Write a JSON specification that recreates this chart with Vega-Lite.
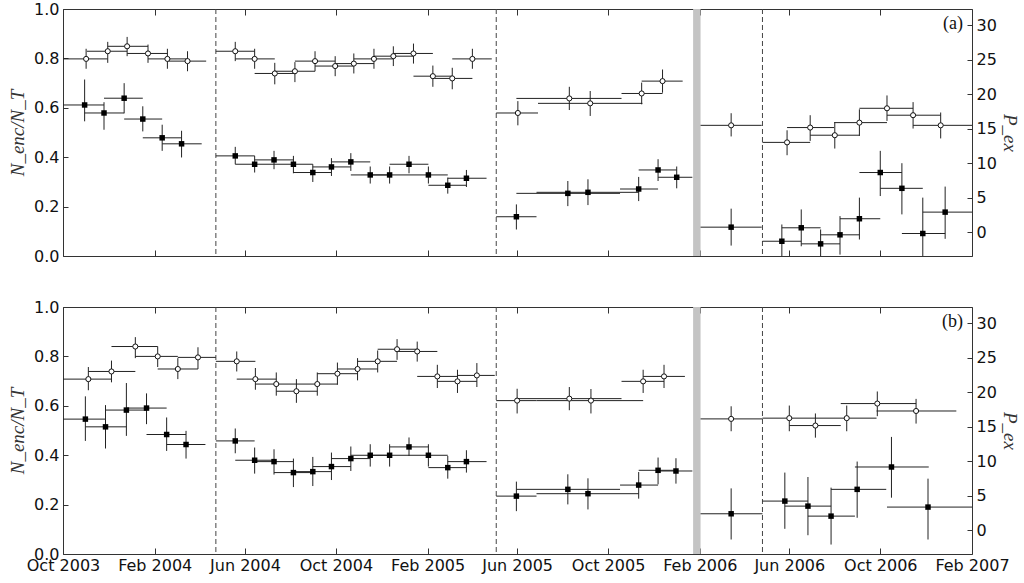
{
  "$schema": "https://vega.github.io/schema/vega-lite/v6.json",
  "background": "white",
  "padding": {"left": 8, "top": 0, "right": 2, "bottom": 2},
  "bounds": "flush",
  "spacing": 51,
  "datasets": {
    "band": [{"t0": "2006-01-23", "t1": "2006-02-02"}],
    "dashes": [{"t": "2004-04-23"}, {"t": "2005-05-04"}, {"t": "2006-04-26"}],
    "ca": [
      {"t": "2003-11-01", "t0": "2003-10-01", "t1": "2003-11-30", "v": 0.798, "lo": 0.758, "hi": 0.839},
      {"t": "2003-11-30", "t0": "2003-11-02", "t1": "2003-12-26", "v": 0.829, "lo": 0.782, "hi": 0.867},
      {"t": "2003-12-26", "t0": "2003-11-30", "t1": "2004-01-23", "v": 0.849, "lo": 0.809, "hi": 0.887},
      {"t": "2004-01-23", "t0": "2003-12-26", "t1": "2004-02-18", "v": 0.820, "lo": 0.782, "hi": 0.856},
      {"t": "2004-02-18", "t0": "2004-01-23", "t1": "2004-03-16", "v": 0.798, "lo": 0.758, "hi": 0.839},
      {"t": "2004-03-16", "t0": "2004-02-18", "t1": "2004-04-10", "v": 0.789, "lo": 0.748, "hi": 0.829},
      {"t": "2004-05-19", "t0": "2004-04-23", "t1": "2004-06-14", "v": 0.829, "lo": 0.789, "hi": 0.867},
      {"t": "2004-06-14", "t0": "2004-05-19", "t1": "2004-07-11", "v": 0.798, "lo": 0.758, "hi": 0.839},
      {"t": "2004-07-11", "t0": "2004-06-14", "t1": "2004-08-07", "v": 0.739, "lo": 0.695, "hi": 0.782},
      {"t": "2004-08-07", "t0": "2004-07-11", "t1": "2004-09-03", "v": 0.748, "lo": 0.704, "hi": 0.785},
      {"t": "2004-09-03", "t0": "2004-08-07", "t1": "2004-09-30", "v": 0.789, "lo": 0.748, "hi": 0.829},
      {"t": "2004-09-30", "t0": "2004-09-03", "t1": "2004-10-25", "v": 0.769, "lo": 0.728, "hi": 0.809},
      {"t": "2004-10-25", "t0": "2004-09-30", "t1": "2004-11-21", "v": 0.779, "lo": 0.739, "hi": 0.820},
      {"t": "2004-11-21", "t0": "2004-10-25", "t1": "2004-12-17", "v": 0.798, "lo": 0.758, "hi": 0.839},
      {"t": "2004-12-17", "t0": "2004-11-21", "t1": "2005-01-13", "v": 0.809, "lo": 0.769, "hi": 0.849},
      {"t": "2005-01-13", "t0": "2004-12-17", "t1": "2005-02-08", "v": 0.820, "lo": 0.779, "hi": 0.860},
      {"t": "2005-02-08", "t0": "2005-01-13", "t1": "2005-03-06", "v": 0.728, "lo": 0.685, "hi": 0.771},
      {"t": "2005-03-06", "t0": "2005-02-08", "t1": "2005-04-02", "v": 0.719, "lo": 0.675, "hi": 0.762},
      {"t": "2005-04-02", "t0": "2005-03-06", "t1": "2005-04-28", "v": 0.798, "lo": 0.758, "hi": 0.839},
      {"t": "2005-06-02", "t0": "2005-05-04", "t1": "2005-06-29", "v": 0.579, "lo": 0.529, "hi": 0.627},
      {"t": "2005-08-10", "t0": "2005-05-31", "t1": "2005-10-19", "v": 0.638, "lo": 0.591, "hi": 0.685},
      {"t": "2005-09-07", "t0": "2005-06-29", "t1": "2005-11-16", "v": 0.618, "lo": 0.567, "hi": 0.668},
      {"t": "2005-11-15", "t0": "2005-10-19", "t1": "2005-12-13", "v": 0.658, "lo": 0.614, "hi": 0.702},
      {"t": "2005-12-13", "t0": "2005-11-15", "t1": "2006-01-09", "v": 0.708, "lo": 0.661, "hi": 0.755},
      {"t": "2006-03-15", "t0": "2006-02-02", "t1": "2006-04-25", "v": 0.529, "lo": 0.484, "hi": 0.578},
      {"t": "2006-05-29", "t0": "2006-04-26", "t1": "2006-06-29", "v": 0.460, "lo": 0.408, "hi": 0.509},
      {"t": "2006-06-29", "t0": "2006-05-29", "t1": "2006-07-31", "v": 0.520, "lo": 0.466, "hi": 0.570},
      {"t": "2006-08-01", "t0": "2006-06-29", "t1": "2006-09-03", "v": 0.489, "lo": 0.435, "hi": 0.540},
      {"t": "2006-09-03", "t0": "2006-07-31", "t1": "2006-10-10", "v": 0.540, "lo": 0.486, "hi": 0.594},
      {"t": "2006-10-10", "t0": "2006-09-03", "t1": "2006-11-14", "v": 0.598, "lo": 0.547, "hi": 0.650},
      {"t": "2006-11-14", "t0": "2006-10-10", "t1": "2006-12-21", "v": 0.570, "lo": 0.516, "hi": 0.623},
      {"t": "2006-12-21", "t0": "2006-11-14", "t1": "2007-02-10", "v": 0.529, "lo": 0.476, "hi": 0.581}
    ],
    "sa": [
      {"t": "2003-10-30", "t0": "2003-10-01", "t1": "2003-11-25", "p": 18.44, "lo": 16.07, "hi": 22.13},
      {"t": "2003-11-25", "t0": "2003-10-30", "t1": "2003-12-22", "p": 17.28, "lo": 14.85, "hi": 18.84},
      {"t": "2003-12-22", "t0": "2003-11-25", "t1": "2004-01-16", "p": 19.42, "lo": 17.23, "hi": 21.60},
      {"t": "2004-01-16", "t0": "2003-12-22", "t1": "2004-02-11", "p": 16.40, "lo": 14.61, "hi": 18.25},
      {"t": "2004-02-11", "t0": "2004-01-16", "t1": "2004-03-08", "p": 13.68, "lo": 11.79, "hi": 15.58},
      {"t": "2004-03-08", "t0": "2004-02-11", "t1": "2004-04-04", "p": 12.81, "lo": 10.83, "hi": 14.70},
      {"t": "2004-05-19", "t0": "2004-04-23", "t1": "2004-06-14", "p": 11.06, "lo": 9.85, "hi": 12.37},
      {"t": "2004-06-14", "t0": "2004-05-19", "t1": "2004-07-10", "p": 9.85, "lo": 8.65, "hi": 11.06},
      {"t": "2004-07-10", "t0": "2004-06-14", "t1": "2004-08-05", "p": 10.48, "lo": 9.13, "hi": 11.79},
      {"t": "2004-08-05", "t0": "2004-07-10", "t1": "2004-08-31", "p": 9.85, "lo": 8.54, "hi": 11.06},
      {"t": "2004-08-31", "t0": "2004-08-05", "t1": "2004-09-25", "p": 8.65, "lo": 7.28, "hi": 9.85},
      {"t": "2004-09-25", "t0": "2004-08-31", "t1": "2004-10-21", "p": 9.46, "lo": 8.15, "hi": 10.73},
      {"t": "2004-10-21", "t0": "2004-09-25", "t1": "2004-11-16", "p": 10.19, "lo": 8.88, "hi": 11.46},
      {"t": "2004-11-16", "t0": "2004-10-21", "t1": "2004-12-12", "p": 8.30, "lo": 7.05, "hi": 9.52},
      {"t": "2004-12-12", "t0": "2004-11-16", "t1": "2005-01-07", "p": 8.30, "lo": 7.05, "hi": 9.52},
      {"t": "2005-01-07", "t0": "2004-12-12", "t1": "2005-02-02", "p": 9.85, "lo": 8.54, "hi": 11.06},
      {"t": "2005-02-02", "t0": "2005-01-07", "t1": "2005-02-28", "p": 8.30, "lo": 7.05, "hi": 9.52},
      {"t": "2005-02-28", "t0": "2005-02-02", "t1": "2005-03-25", "p": 6.80, "lo": 5.59, "hi": 7.92},
      {"t": "2005-03-25", "t0": "2005-02-28", "t1": "2005-04-21", "p": 7.82, "lo": 6.55, "hi": 9.02},
      {"t": "2005-05-31", "t0": "2005-05-04", "t1": "2005-06-27", "p": 2.24, "lo": 0.39, "hi": 4.03},
      {"t": "2005-08-08", "t0": "2005-05-31", "t1": "2005-10-17", "p": 5.63, "lo": 3.78, "hi": 7.42},
      {"t": "2005-09-04", "t0": "2005-06-27", "t1": "2005-11-11", "p": 5.78, "lo": 3.93, "hi": 7.67},
      {"t": "2005-11-11", "t0": "2005-10-17", "t1": "2005-12-07", "p": 6.26, "lo": 4.51, "hi": 8.01},
      {"t": "2005-12-07", "t0": "2005-11-11", "t1": "2006-01-01", "p": 9.02, "lo": 7.42, "hi": 10.58},
      {"t": "2006-01-01", "t0": "2005-12-07", "t1": "2006-01-22", "p": 7.96, "lo": 6.36, "hi": 9.52},
      {"t": "2006-03-15", "t0": "2006-02-02", "t1": "2006-04-25", "p": 0.73, "lo": -1.94, "hi": 3.41},
      {"t": "2006-05-22", "t0": "2006-04-26", "t1": "2006-06-17", "p": -1.31, "lo": -3.9, "hi": 1.12},
      {"t": "2006-06-17", "t0": "2006-05-22", "t1": "2006-07-13", "p": 0.64, "lo": -2.04, "hi": 3.30},
      {"t": "2006-07-13", "t0": "2006-06-17", "t1": "2006-08-08", "p": -1.69, "lo": -4.0, "hi": 0.39},
      {"t": "2006-08-08", "t0": "2006-07-13", "t1": "2006-09-03", "p": -0.38, "lo": -3.25, "hi": 2.33},
      {"t": "2006-09-03", "t0": "2006-08-08", "t1": "2006-10-01", "p": 1.95, "lo": -1.06, "hi": 5.01},
      {"t": "2006-10-01", "t0": "2006-09-03", "t1": "2006-10-30", "p": 8.65, "lo": 5.24, "hi": 11.79},
      {"t": "2006-10-30", "t0": "2006-10-01", "t1": "2006-11-27", "p": 6.36, "lo": 2.58, "hi": 10.0},
      {"t": "2006-11-27", "t0": "2006-10-30", "t1": "2006-12-27", "p": -0.19, "lo": -5.4, "hi": 5.01},
      {"t": "2006-12-27", "t0": "2006-11-27", "t1": "2007-02-10", "p": 2.91, "lo": -0.96, "hi": 6.61}
    ],
    "cb": [
      {"t": "2003-11-04", "t0": "2003-10-01", "t1": "2003-12-05", "v": 0.708, "lo": 0.663, "hi": 0.757},
      {"t": "2003-12-05", "t0": "2003-11-04", "t1": "2004-01-06", "v": 0.739, "lo": 0.695, "hi": 0.783},
      {"t": "2004-01-06", "t0": "2003-12-05", "t1": "2004-02-05", "v": 0.840, "lo": 0.793, "hi": 0.878},
      {"t": "2004-02-05", "t0": "2004-01-06", "t1": "2004-03-03", "v": 0.800, "lo": 0.757, "hi": 0.840},
      {"t": "2004-03-03", "t0": "2004-02-05", "t1": "2004-03-30", "v": 0.749, "lo": 0.708, "hi": 0.793},
      {"t": "2004-03-30", "t0": "2004-03-03", "t1": "2004-04-23", "v": 0.796, "lo": 0.749, "hi": 0.837},
      {"t": "2004-05-21", "t0": "2004-04-23", "t1": "2004-06-15", "v": 0.780, "lo": 0.739, "hi": 0.820},
      {"t": "2004-06-15", "t0": "2004-05-21", "t1": "2004-07-13", "v": 0.708, "lo": 0.665, "hi": 0.753},
      {"t": "2004-07-13", "t0": "2004-06-15", "t1": "2004-08-09", "v": 0.688, "lo": 0.641, "hi": 0.735},
      {"t": "2004-08-09", "t0": "2004-07-13", "t1": "2004-09-06", "v": 0.659, "lo": 0.612, "hi": 0.708},
      {"t": "2004-09-06", "t0": "2004-08-09", "t1": "2004-10-03", "v": 0.688, "lo": 0.641, "hi": 0.735},
      {"t": "2004-10-03", "t0": "2004-09-06", "t1": "2004-10-30", "v": 0.730, "lo": 0.685, "hi": 0.775},
      {"t": "2004-10-30", "t0": "2004-10-03", "t1": "2004-11-26", "v": 0.749, "lo": 0.703, "hi": 0.793},
      {"t": "2004-11-26", "t0": "2004-10-30", "t1": "2004-12-22", "v": 0.780, "lo": 0.735, "hi": 0.824},
      {"t": "2004-12-22", "t0": "2004-11-26", "t1": "2005-01-18", "v": 0.829, "lo": 0.786, "hi": 0.870},
      {"t": "2005-01-18", "t0": "2004-12-22", "t1": "2005-02-14", "v": 0.820, "lo": 0.779, "hi": 0.860},
      {"t": "2005-02-14", "t0": "2005-01-18", "t1": "2005-03-13", "v": 0.719, "lo": 0.672, "hi": 0.766},
      {"t": "2005-03-13", "t0": "2005-02-14", "t1": "2005-04-08", "v": 0.699, "lo": 0.652, "hi": 0.746},
      {"t": "2005-04-08", "t0": "2005-03-13", "t1": "2005-05-02", "v": 0.723, "lo": 0.676, "hi": 0.773},
      {"t": "2005-06-01", "t0": "2005-05-04", "t1": "2005-06-27", "v": 0.621, "lo": 0.569, "hi": 0.669},
      {"t": "2005-08-10", "t0": "2005-06-01", "t1": "2005-10-19", "v": 0.629, "lo": 0.582, "hi": 0.676},
      {"t": "2005-09-08", "t0": "2005-06-27", "t1": "2005-11-17", "v": 0.621, "lo": 0.569, "hi": 0.668},
      {"t": "2005-11-17", "t0": "2005-10-19", "t1": "2005-12-15", "v": 0.699, "lo": 0.652, "hi": 0.746},
      {"t": "2005-12-15", "t0": "2005-11-17", "t1": "2006-01-12", "v": 0.719, "lo": 0.672, "hi": 0.766},
      {"t": "2006-03-15", "t0": "2006-02-02", "t1": "2006-04-26", "v": 0.547, "lo": 0.497, "hi": 0.598},
      {"t": "2006-06-01", "t0": "2006-04-26", "t1": "2006-07-06", "v": 0.550, "lo": 0.497, "hi": 0.601},
      {"t": "2006-07-06", "t0": "2006-06-01", "t1": "2006-08-09", "v": 0.520, "lo": 0.471, "hi": 0.569},
      {"t": "2006-08-17", "t0": "2006-07-06", "t1": "2006-09-26", "v": 0.550, "lo": 0.497, "hi": 0.601},
      {"t": "2006-09-27", "t0": "2006-08-09", "t1": "2006-11-18", "v": 0.609, "lo": 0.558, "hi": 0.658},
      {"t": "2006-11-18", "t0": "2006-09-26", "t1": "2007-01-11", "v": 0.579, "lo": 0.528, "hi": 0.628}
    ],
    "sb": [
      {"t": "2003-10-31", "t0": "2003-10-01", "t1": "2003-11-27", "p": 16.10, "lo": 12.94, "hi": 19.40},
      {"t": "2003-11-27", "t0": "2003-10-31", "t1": "2003-12-25", "p": 14.98, "lo": 11.84, "hi": 18.13},
      {"t": "2003-12-25", "t0": "2003-11-27", "t1": "2004-01-21", "p": 17.41, "lo": 13.67, "hi": 21.33},
      {"t": "2004-01-21", "t0": "2003-12-25", "t1": "2004-02-17", "p": 17.70, "lo": 15.37, "hi": 19.83},
      {"t": "2004-02-17", "t0": "2004-01-21", "t1": "2004-03-14", "p": 13.87, "lo": 11.49, "hi": 16.34},
      {"t": "2004-03-14", "t0": "2004-02-17", "t1": "2004-04-09", "p": 12.42, "lo": 10.38, "hi": 14.40},
      {"t": "2004-05-19", "t0": "2004-04-23", "t1": "2004-06-14", "p": 12.94, "lo": 11.15, "hi": 14.74},
      {"t": "2004-06-14", "t0": "2004-05-19", "t1": "2004-07-10", "p": 10.14, "lo": 8.20, "hi": 11.98},
      {"t": "2004-07-10", "t0": "2004-06-14", "t1": "2004-08-05", "p": 9.94, "lo": 8.06, "hi": 11.73},
      {"t": "2004-08-05", "t0": "2004-07-10", "t1": "2004-08-31", "p": 8.35, "lo": 6.25, "hi": 10.38},
      {"t": "2004-08-31", "t0": "2004-08-05", "t1": "2004-09-25", "p": 8.49, "lo": 6.40, "hi": 10.62},
      {"t": "2004-09-25", "t0": "2004-08-31", "t1": "2004-10-21", "p": 9.22, "lo": 7.27, "hi": 11.25},
      {"t": "2004-10-21", "t0": "2004-09-25", "t1": "2004-11-16", "p": 10.38, "lo": 8.58, "hi": 12.13},
      {"t": "2004-11-16", "t0": "2004-10-21", "t1": "2004-12-12", "p": 10.86, "lo": 9.22, "hi": 12.46},
      {"t": "2004-12-12", "t0": "2004-11-16", "t1": "2005-01-07", "p": 10.86, "lo": 9.22, "hi": 12.46},
      {"t": "2005-01-07", "t0": "2004-12-12", "t1": "2005-02-02", "p": 12.07, "lo": 10.76, "hi": 13.44},
      {"t": "2005-02-02", "t0": "2005-01-07", "t1": "2005-02-28", "p": 10.86, "lo": 9.22, "hi": 12.46},
      {"t": "2005-02-28", "t0": "2005-02-02", "t1": "2005-03-25", "p": 9.07, "lo": 7.47, "hi": 10.76},
      {"t": "2005-03-25", "t0": "2005-02-28", "t1": "2005-04-21", "p": 9.94, "lo": 8.35, "hi": 11.59},
      {"t": "2005-05-31", "t0": "2005-05-04", "t1": "2005-06-27", "p": 4.94, "lo": 2.76, "hi": 7.04},
      {"t": "2005-08-08", "t0": "2005-05-31", "t1": "2005-10-17", "p": 5.92, "lo": 3.74, "hi": 8.10},
      {"t": "2005-09-04", "t0": "2005-06-27", "t1": "2005-11-11", "p": 5.29, "lo": 3.01, "hi": 7.52},
      {"t": "2005-11-11", "t0": "2005-10-17", "t1": "2005-12-07", "p": 6.54, "lo": 4.57, "hi": 8.43},
      {"t": "2005-12-07", "t0": "2005-11-11", "t1": "2005-12-31", "p": 8.68, "lo": 6.65, "hi": 10.53},
      {"t": "2005-12-31", "t0": "2005-12-07", "t1": "2006-01-22", "p": 8.58, "lo": 6.75, "hi": 10.43},
      {"t": "2006-03-15", "t0": "2006-02-02", "t1": "2006-04-26", "p": 2.38, "lo": -1.35, "hi": 6.06},
      {"t": "2006-05-26", "t0": "2006-04-26", "t1": "2006-06-26", "p": 4.22, "lo": 0.20, "hi": 8.35},
      {"t": "2006-06-26", "t0": "2006-05-26", "t1": "2006-07-27", "p": 3.49, "lo": -0.73, "hi": 7.71},
      {"t": "2006-07-27", "t0": "2006-06-26", "t1": "2006-08-28", "p": 2.04, "lo": -2.08, "hi": 6.17},
      {"t": "2006-08-31", "t0": "2006-07-27", "t1": "2006-10-09", "p": 5.92, "lo": 1.80, "hi": 9.95},
      {"t": "2006-10-16", "t0": "2006-08-28", "t1": "2006-12-05", "p": 9.16, "lo": 4.71, "hi": 13.52},
      {"t": "2006-12-04", "t0": "2006-10-10", "t1": "2007-02-10", "p": 3.35, "lo": -1.35, "hi": 7.47}
    ]
  },
  "vconcat": [
    {
      "width": 909,
      "height": 247,
      "layer": [
        {
          "layer": [
            {
              "data": {"name": "band"},
              "mark": {"type": "rect", "color": "#c4c4c4"},
              "encoding": {
                "x": {
                  "field": "t0", "type": "temporal",
                  "scale": {"type": "utc", "domain": [{"year": 2003, "month": 10, "date": 1, "utc": true}, {"year": 2007, "month": 2, "date": 1, "utc": true}]},
                  "axis": {
                    "orient": "bottom", "title": null, "labels": false, "tickSize": -6,
                    "values": [
                      {"year": 2003, "month": 10, "date": 1, "utc": true}, {"year": 2004, "month": 2, "date": 1, "utc": true},
                      {"year": 2004, "month": 6, "date": 1, "utc": true}, {"year": 2004, "month": 10, "date": 1, "utc": true},
                      {"year": 2005, "month": 2, "date": 1, "utc": true}, {"year": 2005, "month": 6, "date": 1, "utc": true},
                      {"year": 2005, "month": 10, "date": 1, "utc": true}, {"year": 2006, "month": 2, "date": 1, "utc": true},
                      {"year": 2006, "month": 6, "date": 1, "utc": true}, {"year": 2006, "month": 10, "date": 1, "utc": true},
                      {"year": 2007, "month": 2, "date": 1, "utc": true}
                    ]
                  }
                },
                "x2": {"field": "t1"}
              }
            },
            {
              "data": {"name": "dashes"},
              "mark": {"type": "rule", "color": "#444444", "strokeWidth": 1, "strokeDash": [5, 3]},
              "encoding": {"x": {"field": "t", "type": "temporal"}}
            },
            {
              "data": {"name": "ca"},
              "mark": {"type": "rule", "color": "#222222", "strokeWidth": 1, "clip": true},
              "encoding": {
                "x": {"field": "t0", "type": "temporal"},
                "x2": {"field": "t1"},
                "y": {
                  "field": "v", "type": "quantitative",
                  "scale": {"domain": [0, 1]},
                  "axis": {"orient": "left", "title": "N_enc/N_T", "values": [0, 0.2, 0.4, 0.6, 0.8, 1.0], "format": ".1f", "titlePadding": 6}
                }
              }
            },
            {
              "data": {"name": "ca"},
              "mark": {"type": "rule", "color": "#222222", "strokeWidth": 1, "clip": true},
              "encoding": {
                "x": {"field": "t", "type": "temporal"},
                "y": {"field": "lo", "type": "quantitative"},
                "y2": {"field": "hi"}
              }
            },
            {
              "data": {"name": "ca"},
              "mark": {"type": "point", "shape": "circle", "filled": true, "fill": "white", "stroke": "#111111", "strokeWidth": 1, "size": 26, "opacity": 1},
              "encoding": {
                "x": {"field": "t", "type": "temporal"},
                "y": {"field": "v", "type": "quantitative"}
              }
            },
            {
              "data": {"values": [{}]},
              "mark": {"type": "text", "align": "right", "baseline": "middle", "dx": -9, "dy": 15, "font": "Liberation Serif", "fontSize": 18, "color": "#111111"},
              "encoding": {
                "x": {"datum": {"year": 2007, "month": 2, "date": 1, "utc": true}, "type": "temporal"},
                "y": {"datum": 1, "type": "quantitative"},
                "text": {"value": "(a)"}
              }
            }
          ]
        },
        {
          "layer": [
            {
              "data": {"name": "sa"},
              "mark": {"type": "rule", "color": "#222222", "strokeWidth": 1, "clip": true},
              "encoding": {
                "x": {
                  "field": "t0", "type": "temporal",
                  "axis": {
                    "orient": "top", "title": null, "labels": false, "tickSize": -6,
                    "values": [
                      {"year": 2003, "month": 10, "date": 1, "utc": true}, {"year": 2004, "month": 2, "date": 1, "utc": true},
                      {"year": 2004, "month": 6, "date": 1, "utc": true}, {"year": 2004, "month": 10, "date": 1, "utc": true},
                      {"year": 2005, "month": 2, "date": 1, "utc": true}, {"year": 2005, "month": 6, "date": 1, "utc": true},
                      {"year": 2005, "month": 10, "date": 1, "utc": true}, {"year": 2006, "month": 2, "date": 1, "utc": true},
                      {"year": 2006, "month": 6, "date": 1, "utc": true}, {"year": 2006, "month": 10, "date": 1, "utc": true},
                      {"year": 2007, "month": 2, "date": 1, "utc": true}
                    ]
                  }
                },
                "x2": {"field": "t1"},
                "y": {
                  "field": "p", "type": "quantitative",
                  "scale": {"domain": [-3.45, 32.35], "nice": false, "zero": false},
                  "axis": {"orient": "right", "title": "P_ex", "values": [0, 5, 10, 15, 20, 25, 30], "format": "d", "titlePadding": 3}
                }
              }
            },
            {
              "data": {"name": "sa"},
              "mark": {"type": "rule", "color": "#222222", "strokeWidth": 1, "clip": true},
              "encoding": {
                "x": {"field": "t", "type": "temporal"},
                "y": {"field": "lo", "type": "quantitative"},
                "y2": {"field": "hi"}
              }
            },
            {
              "data": {"name": "sa"},
              "mark": {"type": "square", "color": "#000000", "size": 30, "opacity": 1},
              "encoding": {
                "x": {"field": "t", "type": "temporal"},
                "y": {"field": "p", "type": "quantitative"}
              }
            }
          ]
        }
      ],
      "resolve": {"scale": {"y": "independent"}, "axis": {"x": "independent", "y": "independent"}}
    },
    {
      "width": 909,
      "height": 247,
      "layer": [
        {
          "layer": [
            {
              "data": {"name": "band"},
              "mark": {"type": "rect", "color": "#c4c4c4"},
              "encoding": {
                "x": {
                  "field": "t0", "type": "temporal",
                  "scale": {"type": "utc", "domain": [{"year": 2003, "month": 10, "date": 1, "utc": true}, {"year": 2007, "month": 2, "date": 1, "utc": true}]},
                  "axis": {
                    "orient": "bottom", "title": null, "labels": true, "tickSize": -6, "format": "%b %Y",
                    "labelFlush": false, "labelOverlap": false,
                    "values": [
                      {"year": 2003, "month": 10, "date": 1, "utc": true}, {"year": 2004, "month": 2, "date": 1, "utc": true},
                      {"year": 2004, "month": 6, "date": 1, "utc": true}, {"year": 2004, "month": 10, "date": 1, "utc": true},
                      {"year": 2005, "month": 2, "date": 1, "utc": true}, {"year": 2005, "month": 6, "date": 1, "utc": true},
                      {"year": 2005, "month": 10, "date": 1, "utc": true}, {"year": 2006, "month": 2, "date": 1, "utc": true},
                      {"year": 2006, "month": 6, "date": 1, "utc": true}, {"year": 2006, "month": 10, "date": 1, "utc": true},
                      {"year": 2007, "month": 2, "date": 1, "utc": true}
                    ]
                  }
                },
                "x2": {"field": "t1"}
              }
            },
            {
              "data": {"name": "dashes"},
              "mark": {"type": "rule", "color": "#444444", "strokeWidth": 1, "strokeDash": [5, 3]},
              "encoding": {"x": {"field": "t", "type": "temporal"}}
            },
            {
              "data": {"name": "cb"},
              "mark": {"type": "rule", "color": "#222222", "strokeWidth": 1, "clip": true},
              "encoding": {
                "x": {"field": "t0", "type": "temporal"},
                "x2": {"field": "t1"},
                "y": {
                  "field": "v", "type": "quantitative",
                  "scale": {"domain": [0, 1]},
                  "axis": {"orient": "left", "title": "N_enc/N_T", "values": [0, 0.2, 0.4, 0.6, 0.8, 1.0], "format": ".1f", "titlePadding": 6}
                }
              }
            },
            {
              "data": {"name": "cb"},
              "mark": {"type": "rule", "color": "#222222", "strokeWidth": 1, "clip": true},
              "encoding": {
                "x": {"field": "t", "type": "temporal"},
                "y": {"field": "lo", "type": "quantitative"},
                "y2": {"field": "hi"}
              }
            },
            {
              "data": {"name": "cb"},
              "mark": {"type": "point", "shape": "circle", "filled": true, "fill": "white", "stroke": "#111111", "strokeWidth": 1, "size": 26, "opacity": 1},
              "encoding": {
                "x": {"field": "t", "type": "temporal"},
                "y": {"field": "v", "type": "quantitative"}
              }
            },
            {
              "data": {"values": [{}]},
              "mark": {"type": "text", "align": "right", "baseline": "middle", "dx": -9, "dy": 15, "font": "Liberation Serif", "fontSize": 18, "color": "#111111"},
              "encoding": {
                "x": {"datum": {"year": 2007, "month": 2, "date": 1, "utc": true}, "type": "temporal"},
                "y": {"datum": 1, "type": "quantitative"},
                "text": {"value": "(b)"}
              }
            }
          ]
        },
        {
          "layer": [
            {
              "data": {"name": "sb"},
              "mark": {"type": "rule", "color": "#222222", "strokeWidth": 1, "clip": true},
              "encoding": {
                "x": {
                  "field": "t0", "type": "temporal",
                  "axis": {
                    "orient": "top", "title": null, "labels": false, "tickSize": -6,
                    "values": [
                      {"year": 2003, "month": 10, "date": 1, "utc": true}, {"year": 2004, "month": 2, "date": 1, "utc": true},
                      {"year": 2004, "month": 6, "date": 1, "utc": true}, {"year": 2004, "month": 10, "date": 1, "utc": true},
                      {"year": 2005, "month": 2, "date": 1, "utc": true}, {"year": 2005, "month": 6, "date": 1, "utc": true},
                      {"year": 2005, "month": 10, "date": 1, "utc": true}, {"year": 2006, "month": 2, "date": 1, "utc": true},
                      {"year": 2006, "month": 6, "date": 1, "utc": true}, {"year": 2006, "month": 10, "date": 1, "utc": true},
                      {"year": 2007, "month": 2, "date": 1, "utc": true}
                    ]
                  }
                },
                "x2": {"field": "t1"},
                "y": {
                  "field": "p", "type": "quantitative",
                  "scale": {"domain": [-3.45, 32.35], "nice": false, "zero": false},
                  "axis": {"orient": "right", "title": "P_ex", "values": [0, 5, 10, 15, 20, 25, 30], "format": "d", "titlePadding": 3}
                }
              }
            },
            {
              "data": {"name": "sb"},
              "mark": {"type": "rule", "color": "#222222", "strokeWidth": 1, "clip": true},
              "encoding": {
                "x": {"field": "t", "type": "temporal"},
                "y": {"field": "lo", "type": "quantitative"},
                "y2": {"field": "hi"}
              }
            },
            {
              "data": {"name": "sb"},
              "mark": {"type": "square", "color": "#000000", "size": 30, "opacity": 1},
              "encoding": {
                "x": {"field": "t", "type": "temporal"},
                "y": {"field": "p", "type": "quantitative"}
              }
            }
          ]
        }
      ],
      "resolve": {"scale": {"y": "independent"}, "axis": {"x": "independent", "y": "independent"}}
    }
  ],
  "resolve": {"scale": {"x": "independent", "y": "independent"}},
  "config": {
    "view": {"stroke": "#333333", "strokeWidth": 1},
    "axis": {
      "domain": false,
      "grid": false,
      "tickSize": -5,
      "tickColor": "#333333",
      "tickWidth": 1,
      "labelFont": "DejaVu Sans",
      "labelFontSize": 16,
      "labelColor": "#111111",
      "labelPadding": 9,
      "titleFont": "Liberation Serif",
      "titleFontStyle": "italic",
      "titleFontWeight": "normal",
      "titleFontSize": 19,
      "titleColor": "#333333"
    }
  }
}
